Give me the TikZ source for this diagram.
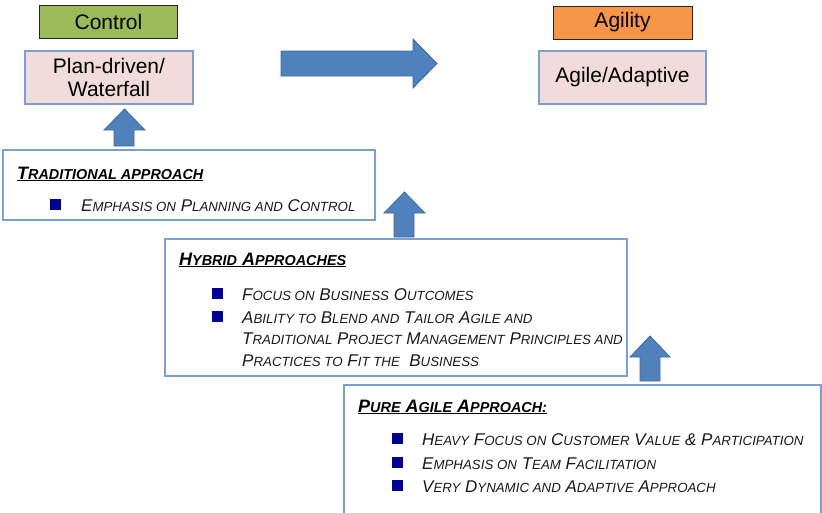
\documentclass[tikz,border=0pt]{standalone}
\usepackage{fontspec}
\setmainfont{Liberation Sans}
\definecolor{tagGreen}{HTML}{9BBB59}
\definecolor{tagOrange}{HTML}{F79646}
\definecolor{kindPink}{HTML}{F2DCDB}
\definecolor{frameBlue}{HTML}{7A9FD2}
\definecolor{arrowFill}{HTML}{4F81BD}
\definecolor{arrowEdge}{HTML}{3F6A9E}
\definecolor{bulletNavy}{HTML}{000099}
% fake small caps: capitals typed in full size, the rest at \lcsize
\def\lcsize{13.3}
\newcommand\lc[1]{{\fontsize{\lcsize}{0pt}\selectfont #1}}
\begin{document}
\begin{tikzpicture}[x=1pt,y=-1pt,
  tagbox/.style={draw=black!85, line width=1pt, minimum width=138pt, minimum height=33pt, inner sep=0pt, font=\fontsize{21}{23}\selectfont},
  kindbox/.style={draw=frameBlue, fill=kindPink, line width=1.3pt, minimum width=168pt, minimum height=53pt, inner sep=0pt, align=center, font=\fontsize{21}{23}\selectfont},
  card/.style={draw=frameBlue, line width=1.2pt},
  blockarrow/.style={fill=arrowFill, draw=arrowEdge, line width=0.8pt, line join=miter},
  heading/.style={anchor=base west, inner sep=0pt, font=\fontsize{18}{20}\selectfont\bfseries\itshape\def\lcsize{14.4}},
  item/.style={anchor=base west, inner sep=0pt, text=black!90, font=\fontsize{17}{20}\selectfont\itshape\def\lcsize{13.3}},
  bullet/.style={fill=bulletNavy, minimum size=10.5pt, inner sep=0pt, anchor=south west}
]
\useasboundingbox (0,0) rectangle (822,512);
\clip (0,0) rectangle (822,512);

% top labels
\node[tagbox, fill=tagGreen] (control) at (108.5,22) {Control};
\node[tagbox, fill=tagOrange, minimum width=139pt] (agility) at (622.5,22.5) {Agility};
\node[kindbox] (plan) at (109,77.5) {Plan-driven/\\Waterfall};
\node[kindbox, minimum width=167pt] (agile) at (622.5,77.5) {Agile/Adaptive};

% big arrow from plan-driven towards agile
\draw[blockarrow] (281,51) -- (413,51) -- (413,39) -- (437,63.5) -- (413,88) -- (413,76) -- (281,76) -- cycle;

% traditional card
\draw[card] (3,150) rectangle (375,220);
\node[heading] (tradT) at (17,179) {\underline{T\lc{RADITIONAL APPROACH}}};
\node[bullet] (tradB1) at (50,210) {};
\node[item] (tradI1) at (81,211) {E\lc{MPHASIS ON} P\lc{LANNING AND} C\lc{ONTROL}};

% hybrid card
\draw[card] (165,239) rectangle (627,376);
\node[heading] (hybT) at (179,265) {\underline{H\lc{YBRID} A\lc{PPROACHES}}};
\node[bullet] (hybB1) at (212,299) {};
\node[item] (hybI1) at (242,300.5) {F\lc{OCUS ON} B\lc{USINESS} O\lc{UTCOMES}};
\node[bullet] (hybB2) at (212,322) {};
\node[item] (hybI2a) at (242,323) {A\lc{BILITY TO} B\lc{LEND AND} T\lc{AILOR} A\lc{GILE AND}};
\node[item] (hybI2b) at (242,344.5) {T\lc{RADITIONAL} P\lc{ROJECT} M\lc{ANAGEMENT} P\lc{RINCIPLES AND}};
\node[item] (hybI2c) at (242,366) {P\lc{RACTICES TO} F\lc{IT THE}\ \ B\lc{USINESS}};

% pure agile card (runs off the bottom edge)
\draw[card] (344,530) -- (344,385) -- (821,385) -- (821,530);
\node[heading] (pureT) at (358,412) {\underline{P\lc{URE} A\lc{GILE} A\lc{PPROACH:}}};
\node[bullet] (pureB1) at (392,444) {};
\node[item] (pureI1) at (422,445) {H\lc{EAVY} F\lc{OCUS ON} C\lc{USTOMER} V\lc{ALUE} \& P\lc{ARTICIPATION}};
\node[bullet] (pureB2) at (392,468) {};
\node[item] (pureI2) at (422,469) {E\lc{MPHASIS ON} T\lc{EAM} F\lc{ACILITATION}};
\node[bullet] (pureB3) at (392,491) {};
\node[item] (pureI3) at (422,492) {V\lc{ERY} D\lc{YNAMIC AND} A\lc{DAPTIVE} A\lc{PPROACH}};

% upward block arrows between the stages
\draw[blockarrow] (114,146) -- (114,130) -- (104,130) -- (124.5,109) -- (145,130) -- (134,130) -- (134,146) -- cycle;
\draw[blockarrow] (394,237) -- (394,213) -- (384,213) -- (404.5,192) -- (425,213) -- (414,213) -- (414,237) -- cycle;
\draw[blockarrow] (640,381) -- (640,357) -- (630,357) -- (650,336) -- (670,357) -- (660,357) -- (660,381) -- cycle;
\end{tikzpicture}
\end{document}
